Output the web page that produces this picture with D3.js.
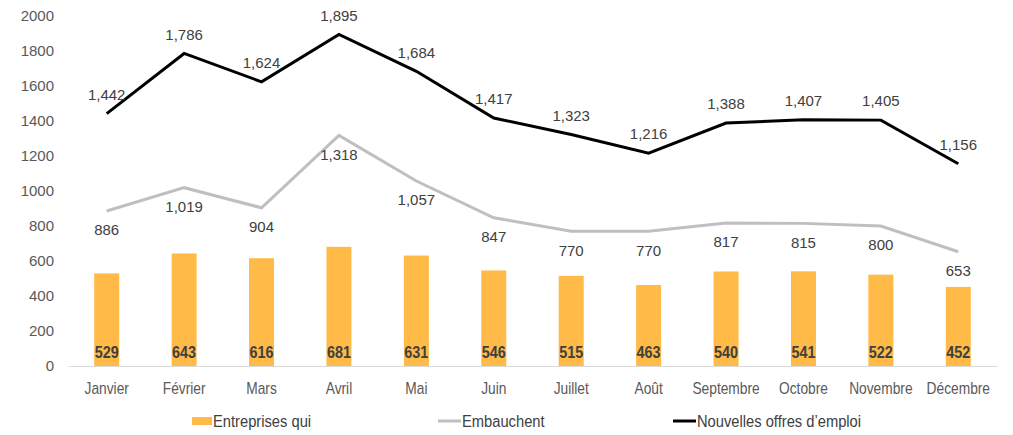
<!DOCTYPE html>
<html>
<head>
<meta charset="utf-8">
<script src="https://cdn.jsdelivr.net/npm/d3@7"></script>
<style>
  body { margin: 0; background: #fff; }
  .tick text { fill: #595959; }
</style>
</head>
<body>
<svg id="chart" width="1013" height="435"></svg>
<script>
let months = ["Janvier", "Février", "Mars", "Avril", "Mai", "Juin", "Juillet", "Août", "Septembre", "Octobre", "Novembre", "Décembre"]
let entreprises = [529, 643, 616, 681, 631, 546, 515, 463, 540, 541, 522, 452]
let embauchent = [886, 1019, 904, 1318, 1057, 847, 770, 770, 817, 815, 800, 653]
let offres = [1442, 1786, 1624, 1895, 1684, 1417, 1323, 1216, 1388, 1407, 1405, 1156]
let yTicks = [0, 200, 400, 600, 800, 1000, 1200, 1400, 1600, 1800, 2000]

let svg = d3.select("#chart")
let regular = "'Liberation Sans', Arial, sans-serif"

let xScale = d3.scaleBand()
    .domain(months)
    .range([68, 997])
let yScale = d3.scaleLinear()
    .domain([0, 2000])
    .range([366, 16])

let data = months.map((m, i) => ({
    month: m,
    ent: entreprises[i],
    emb: embauchent[i],
    off: offres[i]
}))

// y axis, labels only
let yAxis = svg.append("g")
    .attr("transform", "translate(58,0)")
    .call(d3.axisLeft(yScale).tickValues(yTicks).tickSize(0).tickPadding(4).tickFormat(d3.format("d")))
yAxis.select(".domain").remove()
yAxis.selectAll("text").attr("font-family", regular).attr("font-size", 15)

// bars
let barW = 25
svg.selectAll(".bar")
    .data(data)
    .enter().append("rect")
    .attr("class", "bar")
    .attr("x", d => xScale(d.month) + xScale.bandwidth() / 2 - barW / 2)
    .attr("y", d => yScale(d.ent))
    .attr("width", barW)
    .attr("height", d => yScale(0) - yScale(d.ent))
    .attr("fill", "#FFBA47")

// x axis (narrow look via horizontal squeeze)
let xAxis = svg.append("g")
    .attr("transform", "translate(0,366)")
    .call(d3.axisBottom(xScale).tickSize(0).tickPadding(17))
xAxis.select(".domain").attr("stroke", "#D9D9D9")
xAxis.selectAll("text")
    .attr("font-family", regular)
    .attr("font-size", 16)
    .attr("transform", "scale(0.86,1)")

let cx = d => xScale(d.month) + xScale.bandwidth() / 2

let lineEmb = d3.line().x(cx).y(d => yScale(d.emb))
svg.append("path")
    .datum(data)
    .attr("d", lineEmb)
    .attr("fill", "none")
    .attr("stroke", "#BFBFBF")
    .attr("stroke-width", 3)

let lineOff = d3.line().x(cx).y(d => yScale(d.off))
svg.append("path")
    .datum(data)
    .attr("d", lineOff)
    .attr("fill", "none")
    .attr("stroke", "#000")
    .attr("stroke-width", 3)

let fmt = d3.format(",")

// labels
svg.selectAll(".lblOff")
    .data(data)
    .enter().append("text")
    .attr("x", cx)
    .attr("y", d => yScale(d.off) - 19)
    .attr("dy", "0.35em")
    .attr("text-anchor", "middle")
    .attr("font-family", regular)
    .attr("font-size", 15)
    .attr("fill", "#404040")
    .text(d => fmt(d.off))

svg.selectAll(".lblEmb")
    .data(data)
    .enter().append("text")
    .attr("x", cx)
    .attr("y", d => yScale(d.emb) + 19)
    .attr("dy", "0.35em")
    .attr("text-anchor", "middle")
    .attr("font-family", regular)
    .attr("font-size", 15)
    .attr("fill", "#404040")
    .text(d => fmt(d.emb))

svg.selectAll(".lblEnt")
    .data(data)
    .enter().append("text")
    .attr("transform", d => "translate(" + cx(d) + ",352) scale(0.9,1)")
    .attr("dy", "0.35em")
    .attr("text-anchor", "middle")
    .attr("font-family", regular)
    .attr("font-weight", "bold")
    .attr("font-size", 16)
    .attr("fill", "#404040")
    .text(d => d.ent)

// legend
let legend = svg.append("g").attr("font-family", regular).attr("font-size", 16).attr("fill", "#404040")
let legText = (x, label) => legend.append("text")
    .attr("transform", "translate(" + x + ",421) scale(0.92,1)")
    .attr("dy", "0.35em")
    .text(label)
legend.append("rect").attr("x", 192).attr("y", 417).attr("width", 20).attr("height", 8).attr("fill", "#FFBA47")
legText(213, "Entreprises qui")
legend.append("line").attr("x1", 438).attr("x2", 461).attr("y1", 421).attr("y2", 421).attr("stroke", "#BFBFBF").attr("stroke-width", 3)
legText(462, "Embauchent")
legend.append("line").attr("x1", 673).attr("x2", 696).attr("y1", 421).attr("y2", 421).attr("stroke", "#000").attr("stroke-width", 3)
legText(697, "Nouvelles offres d’emploi")
</script>
</body>
</html>
